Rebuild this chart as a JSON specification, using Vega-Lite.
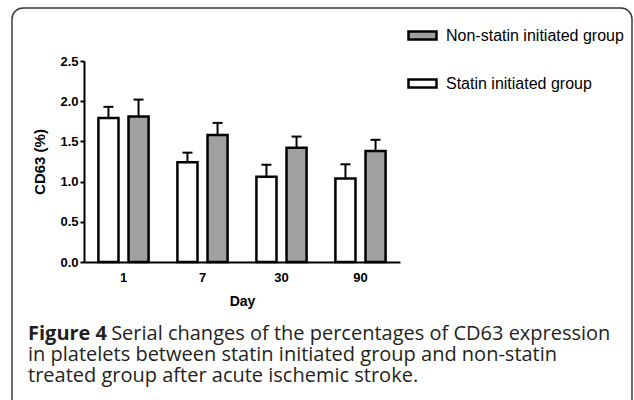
{
  "$schema": "https://vega.github.io/schema/vega-lite/v6.json",
  "autosize": {"type": "none"},
  "width": 620,
  "height": 404,
  "padding": {"left": 12, "top": 8, "right": 2, "bottom": -12},
  "background": "white",
  "config": {
    "view": {"stroke": "#3a3a3a", "strokeWidth": 1.5, "cornerRadius": 11, "fill": "white"},
    "font": "Liberation Sans",
    "axis": {"domainColor": "black", "domainWidth": 2, "tickColor": "black", "tickWidth": 2, "labelColor": "black", "titleColor": "black", "grid": false}
  },
  "title": {
    "text": "Figure 4",
    "subtitle": ["\u200b\u00a0\u00a0\u00a0\u00a0\u00a0\u00a0\u00a0\u00a0\u00a0\u00a0\u00a0\u00a0\u00a0\u00a0\u00a0\u00a0Serial changes of the percentages of CD63 expression", "in platelets between statin initiated group and non-statin", "treated group after acute ischemic stroke."],
    "orient": "bottom",
    "anchor": "start",
    "frame": "group",
    "dx": 16,
    "offset": -88,
    "font": "Open Sans",
    "fontSize": 20,
    "fontWeight": "bold",
    "color": "#231f20",
    "baseline": "top",
    "subtitleFont": "Open Sans",
    "subtitleFontSize": 20,
    "subtitleFontWeight": "normal",
    "subtitleColor": "#231f20",
    "subtitleLineHeight": 21,
    "subtitlePadding": -20
  },
  "data": {
    "values": [
      {"day": "1", "group": "Statin initiated group", "value": 1.79, "upper": 1.93},
      {"day": "1", "group": "Non-statin initiated group", "value": 1.81, "upper": 2.02},
      {"day": "7", "group": "Statin initiated group", "value": 1.24, "upper": 1.36},
      {"day": "7", "group": "Non-statin initiated group", "value": 1.58, "upper": 1.73},
      {"day": "30", "group": "Statin initiated group", "value": 1.06, "upper": 1.21},
      {"day": "30", "group": "Non-statin initiated group", "value": 1.42, "upper": 1.56},
      {"day": "90", "group": "Statin initiated group", "value": 1.04, "upper": 1.215},
      {"day": "90", "group": "Non-statin initiated group", "value": 1.38, "upper": 1.52}
    ]
  },
  "encoding": {
    "x": {
      "field": "day", "type": "nominal", "sort": ["1", "7", "30", "90"],
      "scale": {"paddingInner": 0.365, "paddingOuter": 0.1825, "range": [72, 388]},
      "axis": {"title": "Day", "offset": -150, "labelAngle": 0, "ticks": false, "tickSize": 0, "labelPadding": 9, "labelFontSize": 13, "labelFontWeight": "bold", "titleFontSize": 14, "titleFontWeight": "bold", "titlePadding": 10}
    },
    "xOffset": {
      "field": "group", "type": "nominal", "sort": ["Statin initiated group", "Non-statin initiated group"],
      "scale": {"paddingInner": 0.333}
    }
  },
  "layer": [
    {
      "mark": {"type": "rule", "strokeWidth": 2, "color": "black"},
      "encoding": {
        "y": {"field": "value", "type": "quantitative"},
        "y2": {"field": "upper"}
      }
    },
    {
      "mark": {"type": "tick", "orient": "horizontal", "size": 10, "thickness": 2, "color": "black", "opacity": 1},
      "encoding": {
        "y": {"field": "upper", "type": "quantitative"}
      }
    },
    {
      "mark": {"type": "bar", "stroke": "black", "strokeWidth": 2.5, "opacity": 1},
      "encoding": {
        "y": {
          "field": "value", "type": "quantitative",
          "scale": {"domain": [0, 2.5], "nice": false, "range": [254, 53]},
          "axis": {"title": "CD63 (%)", "offset": -72, "values": [0, 0.5, 1, 1.5, 2, 2.5], "format": ".1f", "tickSize": 4, "labelPadding": 2, "labelFontSize": 13, "labelFontWeight": "bold", "titleFontSize": 15, "titleFontWeight": "bold", "titlePadding": 12}
        },
        "fill": {
          "field": "group", "type": "nominal",
          "scale": {"domain": ["Non-statin initiated group", "Statin initiated group"], "range": ["#a0a0a0", "#ffffff"]},
          "legend": {
            "title": null,
            "orient": "none",
            "legendX": 401,
            "legendY": 18,
            "symbolType": "M-1.75,-0.5H1.75V0.5H-1.75Z",
            "symbolSize": 256,
            "symbolStrokeColor": "black",
            "symbolStrokeWidth": 2.5,
            "symbolOpacity": 1,
            "labelFontSize": 16,
            "labelColor": "black",
            "labelOffset": 14,
            "rowPadding": 29,
            "labelLimit": 300
          }
        }
      }
    }
  ]
}
